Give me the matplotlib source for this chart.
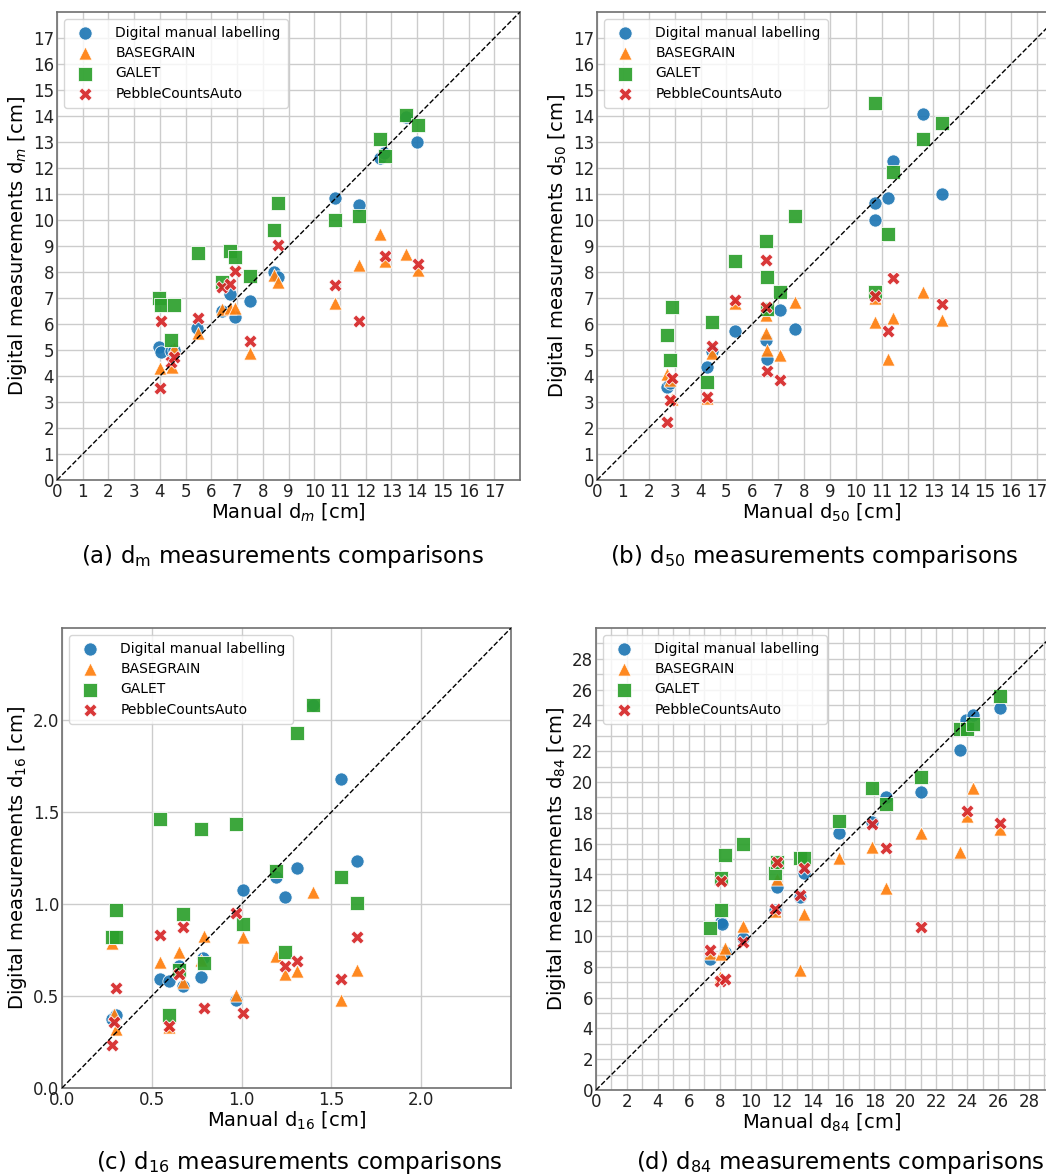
import matplotlib
matplotlib.use("Agg")
import matplotlib.pyplot as plt
import numpy as np

# -------------------------
# data (manual x, digital y) per method
# -------------------------
labels = ["Digital manual labelling", "BASEGRAIN", "GALET", "PebbleCountsAuto"]
colors = ["#1f77b4", "#ff7f0e", "#2ca02c", "#d62728"]
markers = ["o", "^", "s", "X"]

# (a) dm
dm_dig_x = [3.96, 4.05, 4.44, 4.53, 5.45, 6.41, 6.71, 6.92, 7.5, 8.43, 8.6, 10.82, 11.74, 12.54, 12.73, 13.57, 14.0]
dm_dig_y = [5.12, 4.93, 4.95, 5.0, 5.83, 6.49, 7.17, 6.27, 6.89, 8.0, 7.81, 10.85, 10.56, 12.39, 12.57, 13.96, 13.0]
dm_bg_x = [3.99, 4.47, 4.53, 5.48, 6.41, 6.71, 6.92, 7.5, 8.43, 8.6, 10.82, 11.74, 12.54, 12.76, 13.55, 14.02]
dm_bg_y = [4.31, 4.35, 5.06, 5.66, 6.59, 6.63, 6.63, 4.87, 7.87, 7.62, 6.82, 8.26, 9.45, 8.43, 8.71, 8.07]
dm_ga_x = [3.96, 4.05, 4.53, 4.44, 5.48, 6.41, 6.71, 6.92, 7.5, 8.43, 8.6, 10.82, 11.74, 12.54, 12.76, 13.55, 14.02]
dm_ga_y = [7.0, 6.72, 6.75, 5.38, 8.75, 7.62, 8.8, 8.58, 7.84, 9.6, 10.67, 9.99, 10.15, 13.12, 12.46, 14.02, 13.67]
dm_pc_x = [3.99, 4.05, 4.44, 4.53, 5.48, 6.41, 6.71, 6.92, 7.5, 8.6, 10.82, 11.74, 12.76, 14.02]
dm_pc_y = [3.55, 6.12, 4.55, 4.74, 6.24, 7.43, 7.55, 8.04, 5.35, 9.03, 7.49, 6.11, 8.6, 8.32]

# (b) d50
d50_dig_x = [2.72, 2.81, 4.25, 4.43, 5.34, 6.52, 6.55, 6.55, 7.07, 7.64, 10.76, 10.76, 11.26, 11.45, 12.58, 13.33]
d50_dig_y = [3.58, 3.73, 4.34, 4.96, 5.72, 5.37, 4.66, 6.54, 6.54, 5.81, 10.64, 10.0, 10.86, 12.27, 14.06, 11.0]
d50_bg_x = [2.69, 2.81, 2.89, 4.25, 4.43, 5.34, 6.52, 6.52, 6.55, 7.07, 7.64, 10.76, 10.76, 11.26, 11.45, 12.58, 13.33]
d50_bg_y = [4.07, 3.84, 3.1, 3.14, 4.9, 6.79, 6.34, 5.66, 4.99, 4.8, 6.84, 7.0, 6.08, 4.67, 6.24, 7.23, 6.15]
d50_ga_x = [2.72, 2.81, 2.89, 4.25, 4.43, 5.34, 6.52, 6.55, 6.55, 7.07, 7.64, 10.76, 10.76, 11.26, 11.45, 12.58, 13.33]
d50_ga_y = [5.57, 4.63, 6.66, 3.78, 6.07, 8.41, 9.2, 7.81, 6.59, 7.23, 10.15, 14.49, 7.23, 9.45, 11.84, 13.1, 13.74]
d50_pc_x = [2.72, 2.81, 2.89, 4.25, 4.43, 5.34, 6.52, 6.52, 6.55, 7.07, 10.76, 11.26, 11.45, 13.33]
d50_pc_y = [2.24, 3.07, 3.93, 3.18, 5.15, 6.91, 8.45, 6.66, 4.2, 3.84, 7.07, 5.72, 7.78, 6.76]

# (c) d16
d16_dig_x = [0.279, 0.301, 0.544, 0.598, 0.654, 0.672, 0.774, 0.784, 0.971, 1.006, 1.19, 1.24, 1.307, 1.398, 1.552, 1.64]
d16_dig_y = [0.374, 0.396, 0.59, 0.581, 0.662, 0.554, 0.601, 0.704, 0.477, 1.076, 1.149, 1.04, 1.196, 2.083, 1.679, 1.234]
d16_bg_x = [0.279, 0.29, 0.301, 0.544, 0.598, 0.654, 0.672, 0.774, 0.788, 0.971, 1.006, 1.19, 1.24, 1.307, 1.398, 1.552, 1.64]
d16_bg_y = [0.789, 0.401, 0.323, 0.686, 0.332, 0.74, 0.577, 0.695, 0.826, 0.505, 0.822, 0.719, 0.622, 0.635, 1.067, 0.477, 0.644]
d16_ga_x = [0.279, 0.301, 0.301, 0.548, 0.598, 0.654, 0.672, 0.774, 0.788, 0.971, 1.006, 1.19, 1.24, 1.307, 1.398, 1.552, 1.64]
d16_ga_y = [0.822, 0.822, 0.967, 1.463, 0.396, 0.641, 0.944, 1.408, 0.681, 1.436, 0.889, 1.18, 0.737, 1.929, 2.083, 1.149, 1.007]
d16_pc_x = [0.279, 0.29, 0.301, 0.548, 0.598, 0.654, 0.672, 0.788, 0.971, 1.006, 1.24, 1.307, 1.552, 1.64]
d16_pc_y = [0.232, 0.359, 0.541, 0.831, 0.338, 0.622, 0.877, 0.436, 0.949, 0.405, 0.662, 0.69, 0.59, 0.822]

# (d) d84
d84_dig_x = [7.35, 8.11, 8.16, 8.33, 9.52, 11.56, 11.73, 13.2, 13.42, 15.7, 17.85, 18.77, 20.99, 23.57, 23.95, 24.39, 26.12]
d84_dig_y = [8.48, 10.93, 10.76, 8.94, 9.89, 11.69, 13.16, 12.51, 14.07, 16.71, 17.42, 19.05, 19.37, 22.06, 24.03, 24.35, 24.83]
d84_bg_x = [7.35, 8.05, 8.11, 8.33, 9.52, 11.56, 11.73, 13.2, 13.42, 15.7, 17.85, 18.77, 20.99, 23.57, 23.99, 24.39, 26.12]
d84_bg_y = [8.87, 7.36, 8.81, 9.2, 10.65, 11.62, 13.68, 7.79, 11.43, 15.04, 15.76, 13.14, 16.67, 15.43, 17.81, 19.63, 16.95]
d84_ga_x = [7.35, 8.11, 8.11, 8.33, 9.52, 11.56, 11.73, 13.2, 13.42, 15.7, 17.85, 18.77, 20.99, 23.57, 23.99, 24.39, 26.12]
d84_ga_y = [10.5, 11.69, 13.74, 15.26, 15.95, 14.07, 14.83, 15.09, 15.09, 17.49, 19.59, 18.55, 20.3, 23.42, 23.42, 23.74, 25.6]
d84_pc_x = [7.35, 8.05, 8.33, 8.11, 9.52, 11.56, 11.73, 13.2, 13.42, 17.85, 18.77, 20.99, 23.99, 26.12]
d84_pc_y = [9.09, 7.1, 7.19, 13.59, 9.63, 11.73, 14.83, 12.66, 14.44, 17.27, 15.69, 10.56, 18.12, 17.32]

panels = [
    {"series": [(dm_dig_x, dm_dig_y), (dm_bg_x, dm_bg_y), (dm_ga_x, dm_ga_y), (dm_pc_x, dm_pc_y)],
     "sym": "m", "cap": r"(a) d$_\mathrm{m}$ measurements comparisons"},
    {"series": [(d50_dig_x, d50_dig_y), (d50_bg_x, d50_bg_y), (d50_ga_x, d50_ga_y), (d50_pc_x, d50_pc_y)],
     "sym": "{50}", "cap": r"(b) d$_\mathrm{50}$ measurements comparisons"},
    {"series": [(d16_dig_x, d16_dig_y), (d16_bg_x, d16_bg_y), (d16_ga_x, d16_ga_y), (d16_pc_x, d16_pc_y)],
     "sym": "{16}", "cap": r"(c) d$_\mathrm{16}$ measurements comparisons"},
    {"series": [(d84_dig_x, d84_dig_y), (d84_bg_x, d84_bg_y), (d84_ga_x, d84_ga_y), (d84_pc_x, d84_pc_y)],
     "sym": "{84}", "cap": r"(d) d$_\mathrm{84}$ measurements comparisons"},
]

W, H = 1046, 1176
fig = plt.figure(figsize=(W / 100, H / 100), dpi=100)

# axes boxes in pixels: left, top, right, bottom
boxes = [(57, 12, 520, 480), (597, 12, 1046, 480), (62, 628, 511, 1088), (596, 628, 1046, 1090)]
xlims = [(0, 18), (0, 17.35), (0, 2.5), (0, 29.1)]
ylims = [(0, 18), (0, 18), (0, 2.5), (0, 30)]
captions_xy = [(282, 556), (814, 556), (299, 1163), (840, 1163)]

grid_col = "#cccccc"
spine_col = "#707070"

for i, p in enumerate(panels):
    l, t, r, b = boxes[i]
    ax = fig.add_axes([l / W, 1 - b / H, (r - l) / W, (b - t) / H])
    ax.set_axisbelow(True)
    for (xs, ys), lab, c, m in zip(p["series"], labels, colors, markers):
        ax.scatter(xs, ys, s=90, marker=m, color=c, edgecolors="white",
                   linewidths=0.6, alpha=0.92, label=lab, zorder=3)
    lim = max(xlims[i][1], ylims[i][1]) + 1
    ax.plot([0, lim], [0, lim], "k--", lw=1, zorder=4)
    ax.set_xlim(*xlims[i])
    ax.set_ylim(*ylims[i])

    if i < 2:
        ax.set_xticks(np.arange(0, 18, 1))
        ax.set_yticks(np.arange(0, 18, 1))
        ax.grid(True, color=grid_col, lw=1)
    elif i == 2:
        ax.set_xticks([0, 0.5, 1.0, 1.5, 2.0])
        ax.set_yticks([0, 0.5, 1.0, 1.5, 2.0])
        ax.set_xticklabels(["0.0", "0.5", "1.0", "1.5", "2.0"])
        ax.set_yticklabels(["0.0", "0.5", "1.0", "1.5", "2.0"])
        ax.grid(True, color=grid_col, lw=1)
    else:
        ax.set_xticks(np.arange(0, 29, 2))
        ax.set_yticks(np.arange(0, 29, 2))
        ax.set_xticks(np.arange(0, 30, 1), minor=True)
        ax.set_yticks(np.arange(0, 30, 1), minor=True)
        ax.grid(True, which="both", color=grid_col, lw=1)

    ax.tick_params(which="both", length=0, pad=2, labelsize=12, colors="#222222")
    for side, sp in ax.spines.items():
        sp.set_color(spine_col)
        sp.set_linewidth(1.2)
    if i in (1, 3):
        ax.spines["right"].set_visible(False)

    ax.set_xlabel(r"Manual d$_%s$ [cm]" % p["sym"], fontsize=14, labelpad=1)
    ax.set_ylabel(r"Digital measurements d$_%s$ [cm]" % p["sym"], fontsize=14, labelpad=3)
    ax.legend(loc="upper left", fontsize=10, frameon=True, framealpha=0.8,
              borderpad=0.5, labelspacing=0.45, handletextpad=1.2)

    cx, cy = captions_xy[i]
    fig.text(cx / W, 1 - cy / H, p["cap"], ha="center", va="center", fontsize=16.5)

fig.savefig("out.png", dpi=100)
